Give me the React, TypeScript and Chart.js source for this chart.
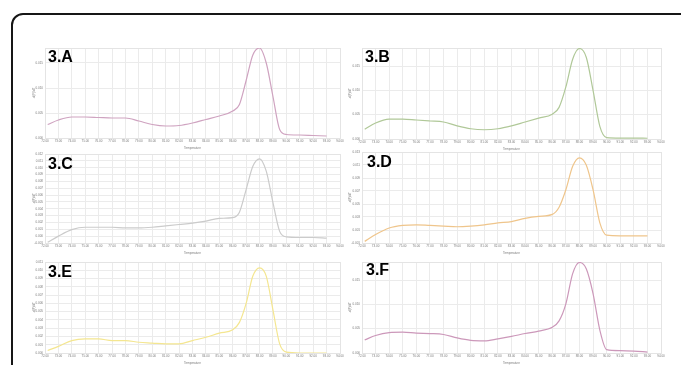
import React, { useEffect, useRef } from "react";
import { Chart, registerables } from "chart.js";
Chart.register(...registerables);

const temperatures = [72.2, 73, 74, 75, 76, 77, 78, 79, 80, 81, 82, 83, 84, 85, 86, 86.5, 87, 87.5, 88, 88.5, 89, 89.5, 90, 91, 92, 93];
const xTicks = [72, 73, 74, 75, 76, 77, 78, 79, 80, 81, 82, 83, 84, 85, 86, 87, 88, 89, 90, 91, 92, 93, 94];

const seriesA = [0.0027, 0.0036, 0.0042, 0.0042, 0.0041, 0.004, 0.004, 0.0034, 0.0027, 0.0024, 0.0025, 0.003, 0.0037, 0.0044, 0.0054, 0.0067, 0.0115, 0.0166, 0.018, 0.015, 0.0083, 0.0017, 0.0007, 0.0006, 0.0005, 0.0004];
const seriesB = [0.002, 0.0033, 0.0041, 0.0041, 0.0039, 0.0037, 0.0035, 0.0027, 0.0021, 0.0019, 0.0021, 0.0027, 0.0035, 0.0043, 0.0051, 0.0065, 0.0107, 0.0164, 0.0186, 0.0168, 0.01, 0.0026, 0.0003, 0.0002, 0.0002, 0.00015];
const seriesC = [-0.0009, 0.0, 0.00095, 0.0013, 0.0013, 0.0013, 0.0012, 0.0012, 0.0013, 0.0015, 0.0017, 0.0019, 0.0022, 0.0026, 0.0027, 0.0035, 0.0068, 0.0102, 0.0113, 0.0095, 0.0049, 0.0007, -0.0001, -0.0002, -0.0002, -0.0003];
const seriesD = [-0.00075, 0.0003, 0.0013, 0.0017, 0.0018, 0.0017, 0.0016, 0.0015, 0.0016, 0.0018, 0.0021, 0.0023, 0.0028, 0.0031, 0.0034, 0.0045, 0.0072, 0.0108, 0.0121, 0.011, 0.0072, 0.0021, 0.0002, 0.0001, 0.0001, 0.0001];
const seriesE = [0.0003, 0.0008, 0.0015, 0.0017, 0.0017, 0.0015, 0.0015, 0.0013, 0.0012, 0.0011, 0.0011, 0.0015, 0.0019, 0.0024, 0.0028, 0.0037, 0.006, 0.0093, 0.0103, 0.0093, 0.0052, 0.0011, 0.0001, 0.0, 0.0, 0.0];
const seriesF = [0.0027, 0.0036, 0.0042, 0.0043, 0.0041, 0.004, 0.0038, 0.0031, 0.0026, 0.0025, 0.0029, 0.0034, 0.004, 0.0045, 0.0053, 0.0066, 0.0101, 0.0163, 0.0186, 0.0173, 0.0122, 0.0047, 0.0007, 0.0005, 0.0004, 0.0002];

const yTicksA = [0, 0.005, 0.01, 0.015];
const yTicksB = [0, 0.005, 0.01, 0.015];
const yTicksC = [-0.001, 0, 0.001, 0.002, 0.003, 0.004, 0.005, 0.006, 0.007, 0.008, 0.009, 0.01, 0.011, 0.012];
const yTicksD = [-0.001, 0, 0.001, 0.002, 0.003, 0.004, 0.005, 0.006, 0.007, 0.008, 0.009, 0.01, 0.011, 0.012, 0.013];
const yTicksE = [0, 0.001, 0.002, 0.003, 0.004, 0.005, 0.006, 0.007, 0.008, 0.009, 0.01, 0.011];
const yTicksF = [0, 0.005, 0.01, 0.015];

const panelLabels = ["3.A", "3.B", "3.C", "3.D", "3.E", "3.F"];
const xTitle = "Temperature";
const yTitle = "-d(F)/dT";

type PanelProps = {
  label: string;
  series: number[];
  yTicks: number[];
  yMin: number;
  yMax: number;
  color: string;
  left: number;
  top: number;
  width: number;
  height: number;
  yWidth: number;
  labelDx: number;
  labelDy: number;
};

const TICK_COLOR = "#7a7a7a";
const GRID_COLOR = "#ebebeb";

function Panel(p: PanelProps) {
  const ref = useRef<HTMLCanvasElement | null>(null);
  useEffect(() => {
    if (!ref.current) return;
    const labelPlugin = {
      id: "panelLabel",
      beforeDatasetsDraw(chart: any) {
        const { ctx, chartArea } = chart;
        ctx.save();
        ctx.strokeStyle = "#e4e4e4";
        ctx.lineWidth = 1;
        ctx.strokeRect(Math.round(chartArea.left) + 0.5, Math.round(chartArea.top) + 0.5, Math.round(chartArea.right - chartArea.left), Math.round(chartArea.bottom - chartArea.top));
        ctx.restore();
      },
      afterDraw(chart: any) {
        const { ctx, chartArea } = chart;
        ctx.save();
        ctx.fillStyle = "#000";
        ctx.font = 'bold 16px "Liberation Sans", Arial, sans-serif';
        ctx.textBaseline = "alphabetic";
        ctx.textAlign = "left";
        ctx.fillText(p.label, chartArea.left + p.labelDx, chartArea.top + p.labelDy);
        ctx.restore();
      },
    };
    const chart = new Chart(ref.current, {
      type: "line",
      data: {
        datasets: [
          {
            data: temperatures.map((t, i) => ({ x: t, y: p.series[i] })),
            borderColor: p.color,
            borderWidth: 1.2,
            pointRadius: 0,
            fill: false,
            cubicInterpolationMode: "monotone",
          },
        ],
      },
      options: {
        animation: false,
        responsive: false,
        maintainAspectRatio: false,
        devicePixelRatio: 1,
        layout: { padding: { top: 4, right: 5, left: 0, bottom: 0 } },
        plugins: { legend: { display: false }, tooltip: { enabled: false } },
        scales: {
          x: {
            type: "linear",
            min: 72,
            max: 94,
            afterBuildTicks: (s: any) => {
              s.ticks = xTicks.map((v) => ({ value: v }));
            },
            afterFit: (s: any) => {
              s.height = 12;
              s.paddingLeft = 0;
              s.paddingRight = 0;
            },
            ticks: {
              autoSkip: false,
              maxRotation: 0,
              minRotation: 0,
              padding: 1,
              color: TICK_COLOR,
              font: { size: 3, family: "Liberation Sans, Arial, sans-serif" },
              callback: (v: any) => Number(v).toFixed(2),
            },
            grid: { color: GRID_COLOR, lineWidth: 1, drawTicks: false },
            border: { display: false },
            title: {
              display: true,
              text: xTitle,
              color: TICK_COLOR,
              font: { size: 3, family: "Liberation Sans, Arial, sans-serif" },
              padding: { top: 1, bottom: 0 },
            },
          },
          y: {
            type: "linear",
            min: p.yMin,
            max: p.yMax,
            afterBuildTicks: (s: any) => {
              s.ticks = p.yTicks.map((v) => ({ value: v }));
            },
            afterFit: (s: any) => {
              s.width = p.yWidth;
              s.paddingTop = 0;
              s.paddingBottom = 0;
            },
            ticks: {
              padding: 2,
              color: TICK_COLOR,
              font: { size: 3, family: "Liberation Sans, Arial, sans-serif" },
              callback: (v: any) => Number(v).toFixed(3),
            },
            grid: { color: GRID_COLOR, lineWidth: 1, drawTicks: false },
            border: { display: false },
            title: {
              display: true,
              text: yTitle,
              color: TICK_COLOR,
              font: { size: 3, family: "Liberation Sans, Arial, sans-serif" },
              padding: { top: 2, bottom: 0 },
            },
          },
        },
      },
      plugins: [labelPlugin],
    } as any);
    return () => chart.destroy();
  }, []);
  return (
    <canvas
      ref={ref}
      width={p.width}
      height={p.height}
      style={{ position: "absolute", left: p.left, top: p.top, width: p.width, height: p.height }}
    />
  );
}

export default function App() {
  return (
    <div style={{ position: "fixed", left: 0, top: 0, width: 681, height: 365, overflow: "hidden", background: "#fff" }}>
      <div
        style={{
          position: "absolute",
          left: 11,
          top: 13,
          width: 730,
          height: 430,
          border: "2px solid #161616",
          borderRadius: 12,
          boxSizing: "border-box",
        }}
      />
      <Panel label={panelLabels[0]} series={seriesA} yTicks={yTicksA} yMin={0} yMax={0.018} color="#cfa3c0" left={30} top={44} width={315} height={106} yWidth={15} labelDx={3} labelDy={14} />
      <Panel label={panelLabels[1]} series={seriesB} yTicks={yTicksB} yMin={0} yMax={0.0187} color="#b0c898" left={346} top={44} width={320} height={107} yWidth={16} labelDx={3} labelDy={14} />
      <Panel label={panelLabels[2]} series={seriesC} yTicks={yTicksC} yMin={-0.001} yMax={0.012} color="#cbcbcb" left={30} top={150} width={315} height={105} yWidth={15} labelDx={3} labelDy={15} />
      <Panel label={panelLabels[3]} series={seriesD} yTicks={yTicksD} yMin={-0.001} yMax={0.013} color="#efc58b" left={346} top={148} width={320} height={107} yWidth={16} labelDx={5} labelDy={15} />
      <Panel label={panelLabels[4]} series={seriesE} yTicks={yTicksE} yMin={0} yMax={0.011} color="#f4e690" left={30} top={258} width={315} height={107} yWidth={15} labelDx={3} labelDy={15} />
      <Panel label={panelLabels[5]} series={seriesF} yTicks={yTicksF} yMin={0} yMax={0.0187} color="#cc98ba" left={346} top={258} width={320} height={107} yWidth={16} labelDx={4} labelDy={13} />
    </div>
  );
}
